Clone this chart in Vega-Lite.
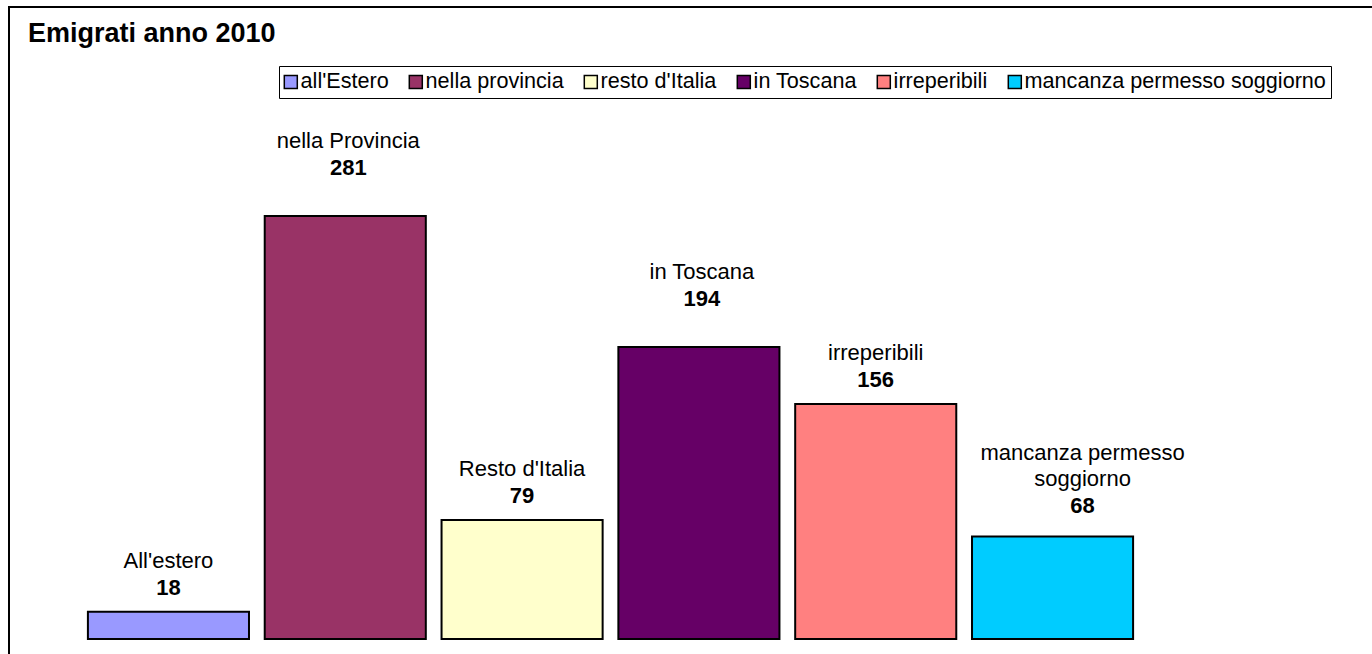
{
  "$schema": "https://vega.github.io/schema/vega-lite/v6.json",
  "autosize": "none",
  "padding": {"left": 9, "top": 7, "right": 0, "bottom": 0},
  "width": 1363,
  "height": 647,
  "background": "white",
  "title": {
    "text": "Emigrati anno 2010",
    "anchor": "start",
    "frame": "group",
    "orient": "top",
    "offset": -41,
    "dx": 19,
    "font": "Liberation Sans",
    "fontSize": 27,
    "fontWeight": "bold",
    "color": "black"
  },
  "config": {
    "view": {"stroke": "black", "strokeWidth": 2, "strokeDash": [1363, 2010, 647]},
    "text": {"font": "Liberation Sans", "fontSize": 22, "color": "black"},
    "legend": {"strokeColor": "black", "padding": 5, "fillColor": "white"}
  },
  "data": {
    "values": [
      {"category": "all'Estero", "label": "All'estero", "value": 18, "grp": "a"},
      {"category": "nella provincia", "label": "nella Provincia", "value": 281, "grp": "b"},
      {"category": "resto d'Italia", "label": "Resto d'Italia", "value": 79, "grp": "a"},
      {"category": "in Toscana", "label": "in Toscana", "value": 194, "grp": "b"},
      {"category": "irreperibili", "label": "irreperibili", "value": 156, "grp": "a"},
      {"category": "mancanza permesso soggiorno", "label": "mancanza permesso\nsoggiorno", "value": 68, "grp": "c"}
    ]
  },
  "encoding": {
    "x": {
      "field": "category",
      "type": "nominal",
      "sort": null,
      "axis": null,
      "scale": {
        "domain": ["all'Estero", "nella provincia", "resto d'Italia", "in Toscana", "irreperibili", "mancanza permesso soggiorno"],
        "range": [71, 1132],
        "paddingInner": 0.089,
        "paddingOuter": 0.0447
      }
    },
    "y": {
      "field": "value",
      "type": "quantitative",
      "axis": null,
      "scale": {"domain": [-10, 419.8], "nice": false, "zero": false}
    }
  },
  "layer": [
    {
      "mark": {"type": "bar", "stroke": "black", "strokeWidth": 2, "opacity": 1},
      "encoding": {
        "color": {
          "field": "category",
          "type": "nominal",
          "sort": null,
          "scale": {
            "domain": ["all'Estero", "nella provincia", "resto d'Italia", "in Toscana", "irreperibili", "mancanza permesso soggiorno"],
            "range": ["#9999FF", "#993366", "#FFFFCC", "#660066", "#FF8080", "#00CCFF"]
          },
          "legend": {
            "title": null,
            "orient": "none",
            "legendX": 270,
            "legendY": 59,
            "direction": "horizontal",
            "columns": 6,
            "columnPadding": 17,
            "symbolType": "square",
            "symbolSize": 169,
            "symbolOffset": -4,
            "symbolStrokeColor": "black",
            "symbolStrokeWidth": 1.5,
            "symbolOpacity": 1,
            "labelFont": "Liberation Sans",
            "labelFontSize": 21.6,
            "labelColor": "black",
            "labelLimit": 0,
            "labelOffset": -1
          }
        }
      }
    },
    {
      "transform": [{"filter": "datum.grp === 'a'"}],
      "mark": {"type": "text", "baseline": "alphabetic", "dy": -44},
      "encoding": {"text": {"field": "label"}}
    },
    {
      "transform": [{"filter": "datum.grp === 'a'"}],
      "mark": {"type": "text", "baseline": "alphabetic", "dy": -17, "fontWeight": "bold"},
      "encoding": {"text": {"field": "value"}}
    },
    {
      "transform": [{"filter": "datum.grp === 'b'"}],
      "mark": {"type": "text", "baseline": "alphabetic", "dy": -67.5, "dx": 3},
      "encoding": {"text": {"field": "label"}}
    },
    {
      "transform": [{"filter": "datum.grp === 'b'"}],
      "mark": {"type": "text", "baseline": "alphabetic", "dy": -41, "dx": 3, "fontWeight": "bold"},
      "encoding": {"text": {"field": "value"}}
    },
    {
      "transform": [{"filter": "datum.grp === 'c'"}],
      "mark": {"type": "text", "baseline": "alphabetic", "dy": -77, "dx": 30, "lineBreak": "\n", "lineHeight": 26},
      "encoding": {"text": {"field": "label"}}
    },
    {
      "transform": [{"filter": "datum.grp === 'c'"}],
      "mark": {"type": "text", "baseline": "alphabetic", "dy": -23.5, "dx": 30, "fontWeight": "bold"},
      "encoding": {"text": {"field": "value"}}
    }
  ]
}
